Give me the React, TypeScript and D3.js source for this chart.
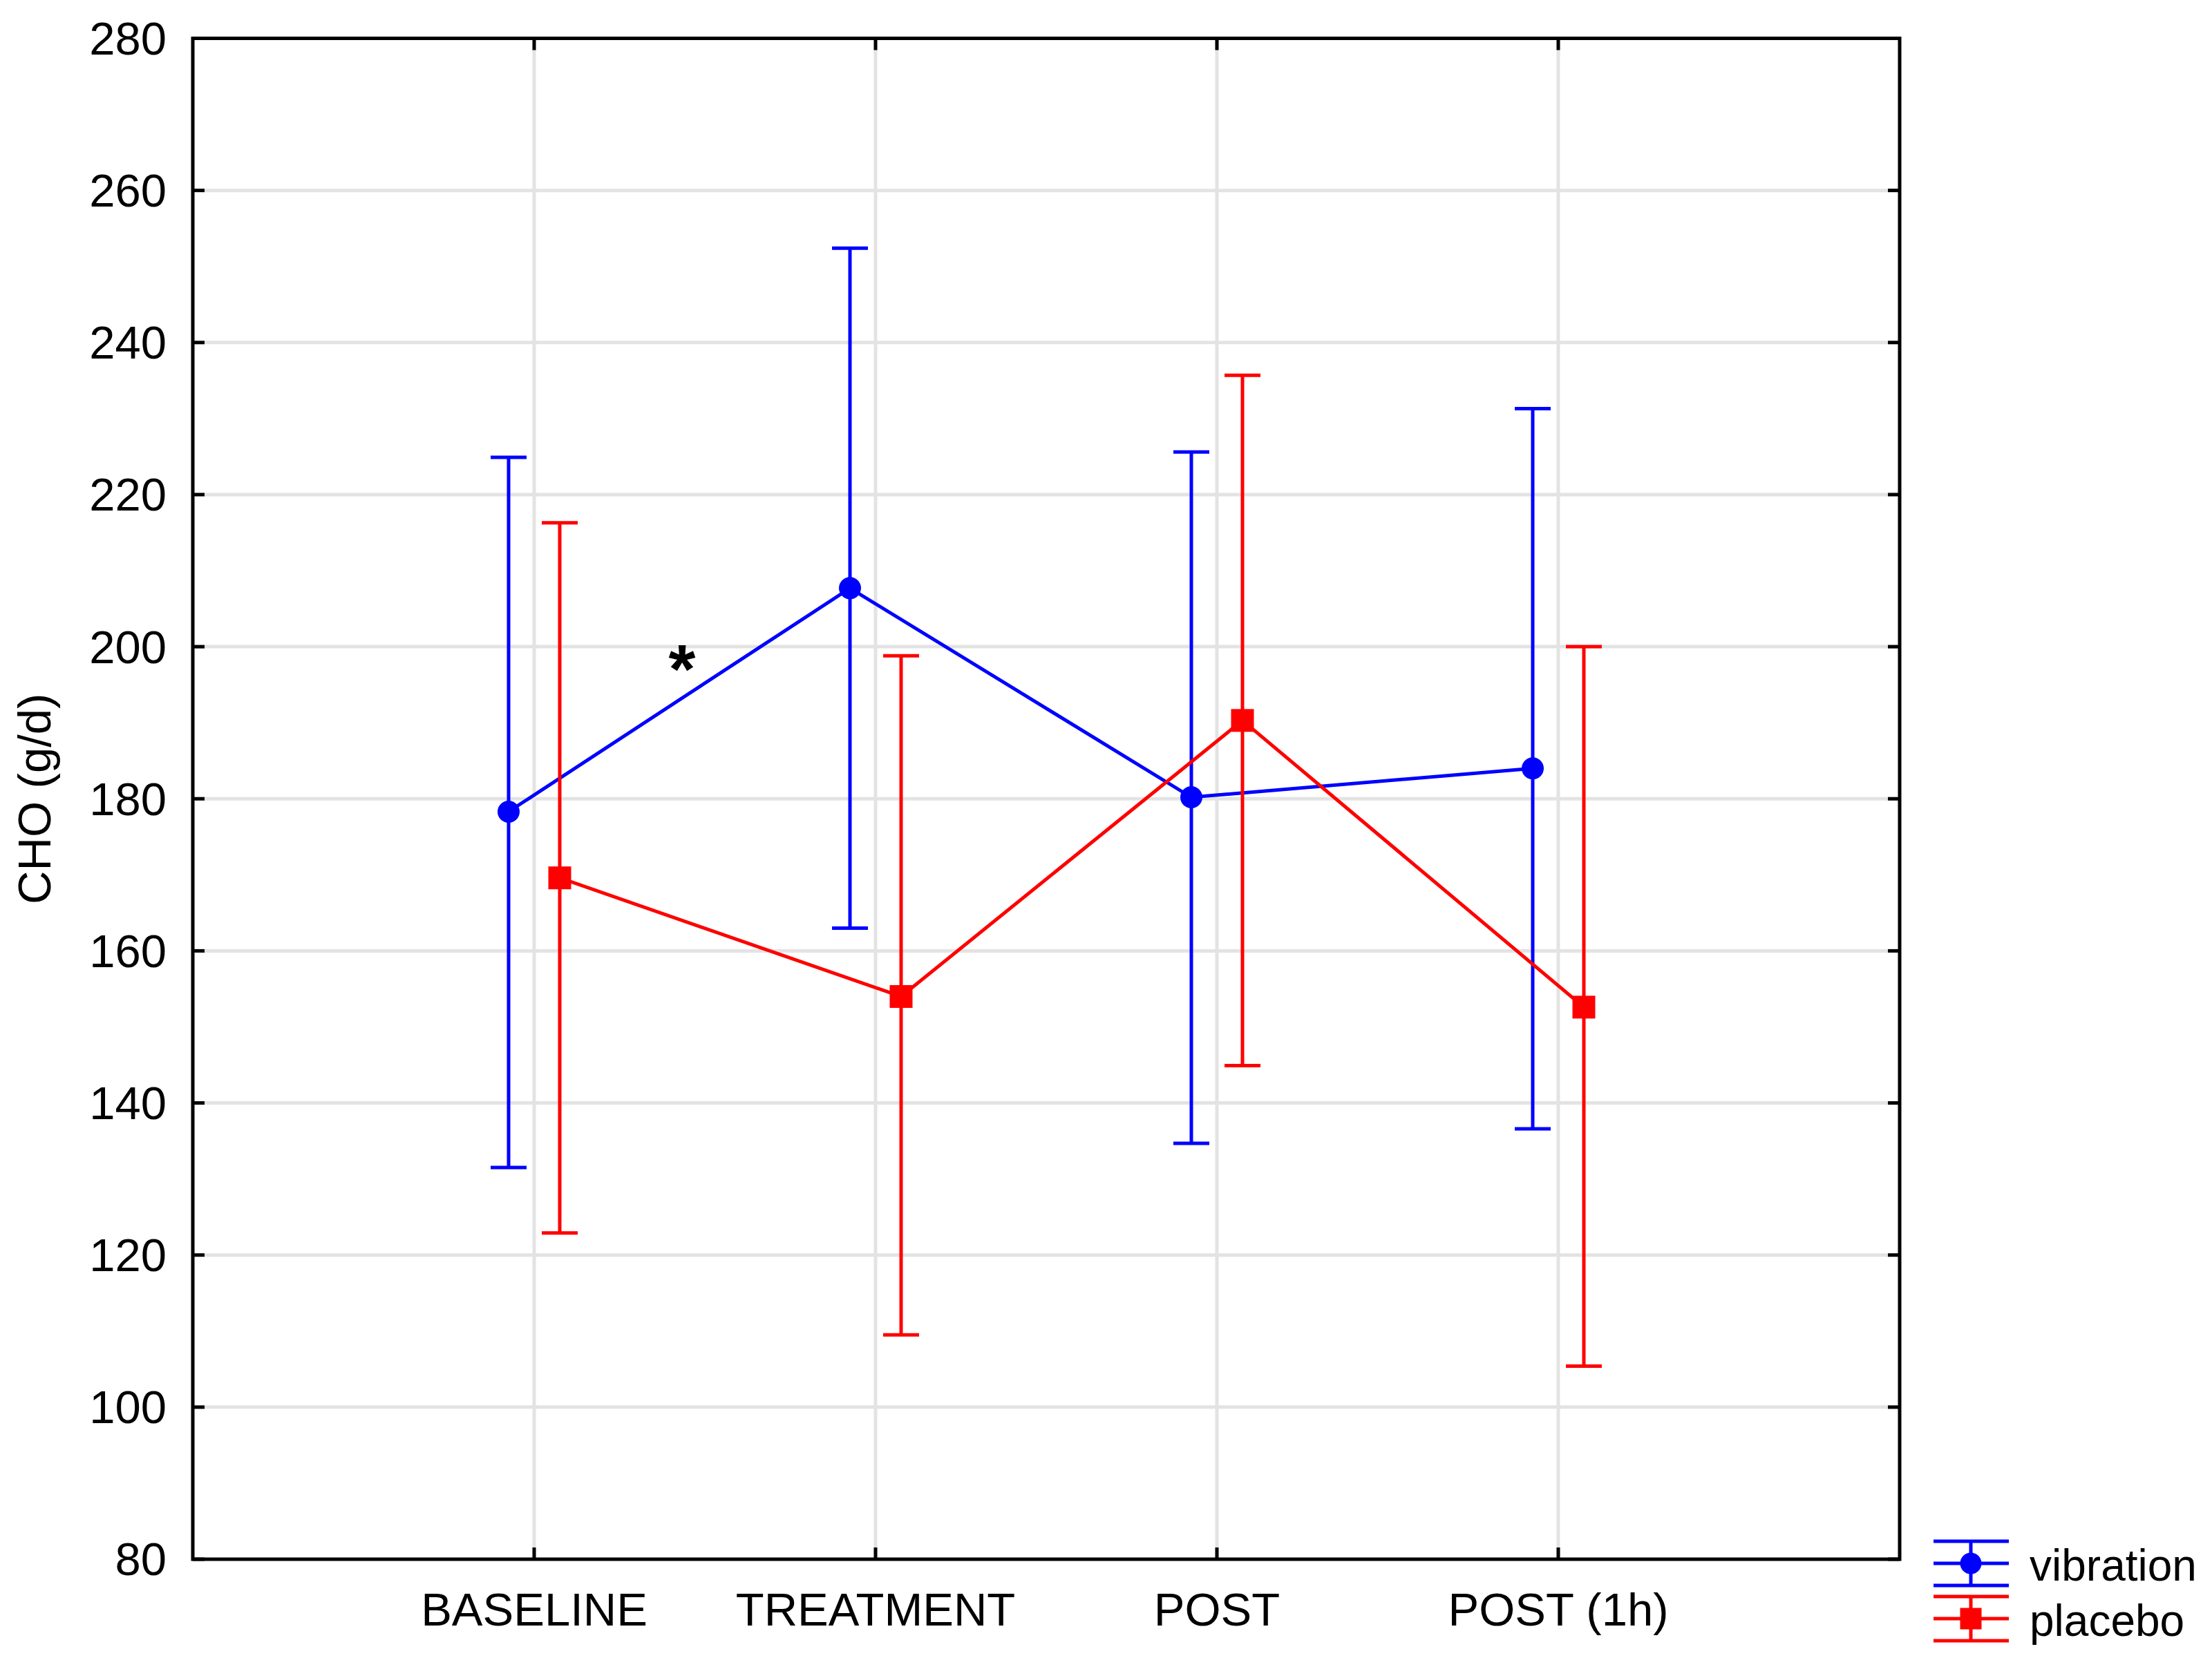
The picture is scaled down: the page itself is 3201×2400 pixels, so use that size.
import React from "react";
import * as d3 from "d3";

const categories = ["BASELINE", "TREATMENT", "POST", "POST (1h)"];
const yTicks = [80, 100, 120, 140, 160, 180, 200, 220, 240, 260, 280];

const vibrationMean = [178.3, 207.7, 180.2, 184.0];
const vibrationUpper = [224.9, 252.4, 225.6, 231.3];
const vibrationLower = [131.5, 163.0, 134.7, 136.6];

const placeboMean = [169.6, 154.0, 190.3, 152.6];
const placeboUpper = [216.3, 198.8, 235.7, 200.0];
const placeboLower = [122.9, 109.5, 144.9, 105.4];

const W = 3201;
const H = 2400;
const L = 279, R = 2749, T = 55.5, B = 2257;
const FONT = "'Liberation Sans', Arial, sans-serif";
const BLUE = "#0000ff";
const RED = "#ff0000";
const GRID = "#e3e3e3";

export default function App() {
  const x = d3.scaleLinear().domain([0, categories.length + 1]).range([L, R]);
  const y = d3.scaleLinear().domain([80, 280]).range([B, T]);
  const off = 37;
  const cap = 26;
  const series = [
    { name: "vibration", mean: vibrationMean, up: vibrationUpper, lo: vibrationLower, color: BLUE, dx: -off, shape: "circle" },
    { name: "placebo", mean: placeboMean, up: placeboUpper, lo: placeboLower, color: RED, dx: off, shape: "square" },
  ];
  const line = d3.line<number>().x((_, i) => x(i + 1)).y((d) => y(d));
  const tickLen = 17;

  return (
    <svg width={W} height={H} style={{ position: "absolute", left: 0, top: 0, background: "#fff" }} fontFamily={FONT}>
      <rect x={0} y={0} width={W} height={H} fill="#fff" />
      {/* gridlines */}
      {yTicks.slice(1, -1).map((t) => (
        <line key={"gy" + t} x1={L} x2={R} y1={y(t)} y2={y(t)} stroke={GRID} strokeWidth={5} />
      ))}
      {categories.map((c, i) => (
        <line key={"gx" + c} x1={x(i + 1)} x2={x(i + 1)} y1={T} y2={B} stroke={GRID} strokeWidth={5} />
      ))}
      {/* ticks */}
      {yTicks.map((t) => (
        <g key={"ty" + t}>
          <line x1={L} x2={L + tickLen} y1={y(t)} y2={y(t)} stroke="#000" strokeWidth={5} />
          <line x1={R - tickLen} x2={R} y1={y(t)} y2={y(t)} stroke="#000" strokeWidth={5} />
          <text x={241} y={y(t)} dy="0.35em" textAnchor="end" fontSize={67} fill="#000">{t}</text>
        </g>
      ))}
      {categories.map((c, i) => (
        <g key={"tx" + c}>
          <line x1={x(i + 1)} x2={x(i + 1)} y1={B} y2={B - tickLen} stroke="#000" strokeWidth={5} />
          <line x1={x(i + 1)} x2={x(i + 1)} y1={T} y2={T + tickLen} stroke="#000" strokeWidth={5} />
          <text x={x(i + 1)} y={2353} textAnchor="middle" fontSize={67} fill="#000">{c}</text>
        </g>
      ))}
      {/* frame */}
      <rect x={L} y={T} width={R - L} height={B - T} fill="none" stroke="#000" strokeWidth={5} />
      {/* y label */}
      <text transform={`translate(73, ${(T + B) / 2}) rotate(-90)`} textAnchor="middle" fontSize={67} fill="#000">CHO (g/d)</text>
      {/* series */}
      {series.map((s) => (
        <g key={s.name}>
          <path d={line.x((_, i) => x(i + 1) + s.dx)(s.mean) || ""} fill="none" stroke={s.color} strokeWidth={5} />
          {s.mean.map((m, i) => {
            const cx = x(i + 1) + s.dx;
            return (
              <g key={i}>
                <line x1={cx} x2={cx} y1={y(s.up[i])} y2={y(s.lo[i])} stroke={s.color} strokeWidth={5} />
                <line x1={cx - cap} x2={cx + cap} y1={y(s.up[i])} y2={y(s.up[i])} stroke={s.color} strokeWidth={5} />
                <line x1={cx - cap} x2={cx + cap} y1={y(s.lo[i])} y2={y(s.lo[i])} stroke={s.color} strokeWidth={5} />
                {s.shape === "circle" ? (
                  <circle cx={cx} cy={y(m)} r={16} fill={s.color} />
                ) : (
                  <rect x={cx - 16.5} y={y(m) - 16.5} width={33} height={33} fill={s.color} />
                )}
              </g>
            );
          })}
        </g>
      ))}
      {/* significance star */}
      <text x={987} y={961} dy="0.42em" textAnchor="middle" fontSize={100} fontWeight="bold" fill="#000">*</text>
      {/* legend */}
      {series.map((s, k) => {
        const cy = 2263 + k * 80;
        const cx = 2852;
        return (
          <g key={"lg" + s.name}>
            {[-32, 0, 32].map((d) => (
              <line key={d} x1={2798} x2={2907} y1={cy + d} y2={cy + d} stroke={s.color} strokeWidth={5} />
            ))}
            <line x1={cx} x2={cx} y1={cy - 32} y2={cy + 32} stroke={s.color} strokeWidth={5} />
            {s.shape === "circle" ? (
              <circle cx={cx} cy={cy} r={15.5} fill={s.color} />
            ) : (
              <rect x={cx - 15.5} y={cy - 15.5} width={31} height={31} fill={s.color} />
            )}
            <text x={2937} y={cy + 25} fontSize={64} fill="#000">{s.name}</text>
          </g>
        );
      })}
    </svg>
  );
}
